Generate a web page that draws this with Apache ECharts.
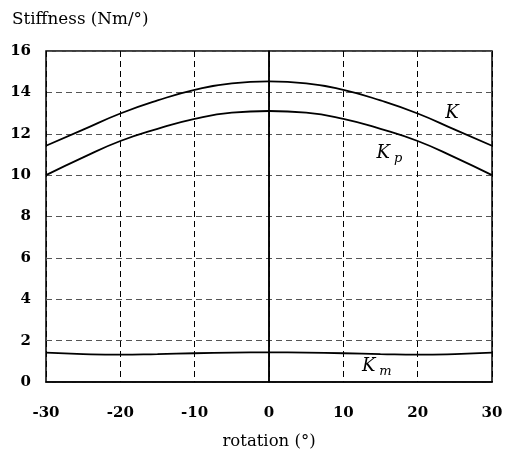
<!DOCTYPE html>
<html><head><meta charset="utf-8">
<script src="https://cdn.jsdelivr.net/npm/echarts@6/dist/echarts.min.js"></script>
<style>html,body{margin:0;padding:0;background:#fff}#c{width:506px;height:457px}</style>
</head><body><div id="c"></div>
<script>
const rotation = [-30,-25,-20,-15,-10,-5,0,5,10,15,20,25,30];
const K  = [11.42,12.2,12.98,13.61,14.12,14.44,14.53,14.44,14.12,13.61,12.98,12.2,11.42];
const Kp = [10.0,10.86,11.65,12.24,12.72,13.02,13.1,13.02,12.72,12.24,11.65,10.86,10.0];
const Km = [1.42,1.35,1.32,1.35,1.39,1.42,1.43,1.42,1.39,1.35,1.32,1.35,1.42];
const xTicks = [-30,-20,-10,0,10,20,30];
const yTicks = [0,2,4,6,8,10,12,14,16];

const font = '"DejaVu Serif","Liberation Serif",serif';
const pair = (xs, ys) => xs.map((x,i)=>[x, ys[i]]);
const lbl = (coord, main, sub) => ({
  coord, symbol:'circle', symbolSize:1, itemStyle:{color:'rgba(0,0,0,0)'},
  label:{show:true, position:'inside', formatter: sub ? '{a|'+main+'}{b|'+sub+'}' : '{a|'+main+'}',
    rich:{a:{fontFamily:font, fontStyle:'italic', fontSize:18, color:'#000'},
          b:{fontFamily:font, fontStyle:'italic', fontSize:13, color:'#000', padding:[10,0,0,4]}}}
});
const chart = echarts.init(document.getElementById('c'));
chart.setOption({
  animation:false,
  backgroundColor:'#fff',
  title:{text:'Stiffness (Nm/°)', left:7, top:6, textStyle:{fontFamily:font, fontSize:16.8, fontWeight:'normal', color:'#000'}},
  grid:{left:46, right:14, top:51, bottom:75, show:true, borderColor:'#000', borderWidth:1.5},
  xAxis:{type:'value', min:-30, max:30, interval:10,
    name:'rotation (°)', nameLocation:'middle', nameGap:51,
    nameTextStyle:{fontFamily:font, fontSize:16.5, color:'#000'},
    axisLine:{show:true, lineStyle:{color:'#000', width:1.5}},
    axisTick:{show:false},
    axisLabel:{fontFamily:font, fontSize:15, fontWeight:'bold', color:'#000', margin:24},
    splitLine:{show:true, lineStyle:{color:'#000', type:[6,4], width:1}}},
  yAxis:{type:'value', min:0, max:16, interval:2,
    axisLine:{show:true, lineStyle:{color:'#000', width:1.5}},
    axisTick:{show:false},
    axisLabel:{fontFamily:font, fontSize:15, fontWeight:'bold', color:'#000', margin:15},
    splitLine:{show:true, lineStyle:{color:'#555', type:[6,4], width:1}}},
  series:[
    {name:'K', type:'line', data:pair(rotation,K), smooth:0.5, symbol:'none', lineStyle:{color:'#000', width:1.8},
      markLine:{silent:true, symbol:'none', label:{show:false}, lineStyle:{color:'#000', type:'solid', width:1.5}, data:[{xAxis:0}]},
      markPoint:{silent:true, data:[lbl([24.6,13.0],'K')]}},
    {name:'Kp', type:'line', data:pair(rotation,Kp), smooth:0.5, symbol:'none', lineStyle:{color:'#000', width:1.8},
      markPoint:{silent:true, data:[lbl([16.2,11.05],'K','p')]}},
    {name:'Km', type:'line', data:pair(rotation,Km), smooth:0.5, symbol:'none', lineStyle:{color:'#000', width:1.8},
      markPoint:{silent:true, data:[lbl([14.5,0.75],'K','m')]}}
  ]
});
</script></body></html>
